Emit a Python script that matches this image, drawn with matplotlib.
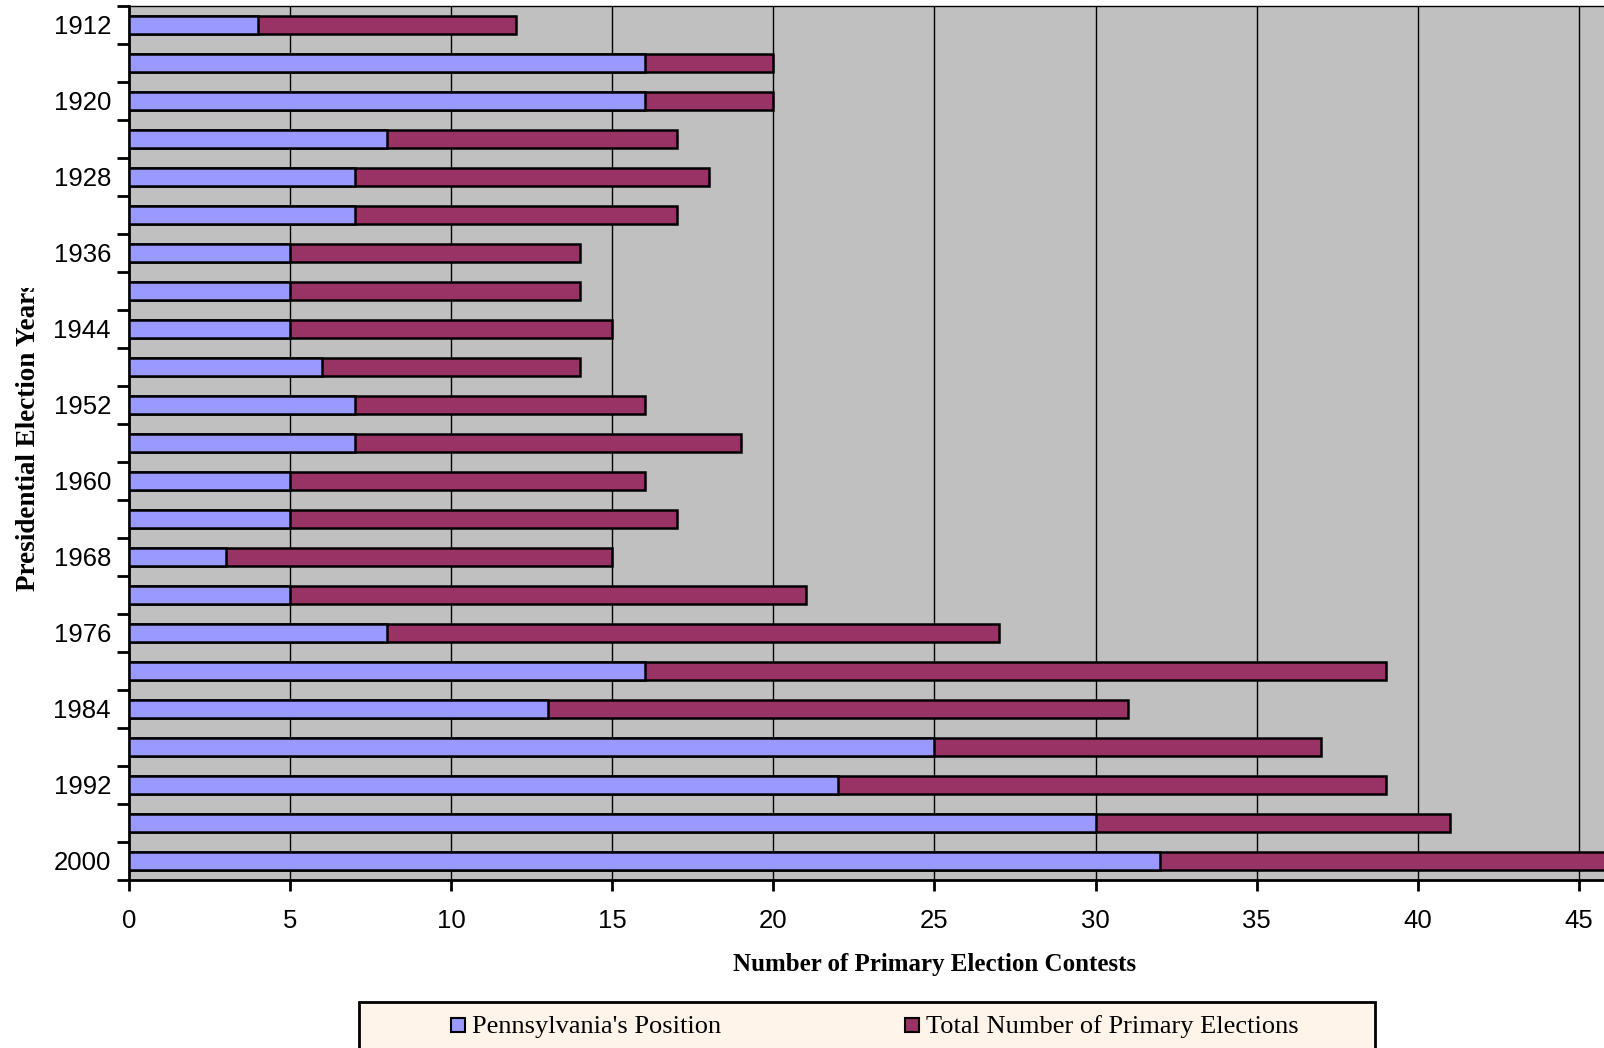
import matplotlib
matplotlib.use('Agg')
import matplotlib.pyplot as plt
from matplotlib.patches import Rectangle
from matplotlib.transforms import Bbox, TransformedBbox
import numpy as np

# data
years = [1912, 1916, 1920, 1924, 1928, 1932, 1936, 1940, 1944, 1948, 1952, 1956,
         1960, 1964, 1968, 1972, 1976, 1980, 1984, 1988, 1992, 1996, 2000]
pa_position = [4, 16, 16, 8, 7, 7, 5, 5, 5, 6, 7, 7, 5, 5, 3, 5, 8, 16, 13, 25, 22, 30, 32]
total_primaries = [12, 20, 20, 17, 18, 17, 14, 14, 15, 14, 16, 19, 16, 17, 15, 21, 27, 39, 31, 37, 39, 41, 47]
xticks = [0, 5, 10, 15, 20, 25, 30, 35, 40, 45]

blue = '#9999FF'
maroon = '#993366'

W, H = 1604, 1048
fig = plt.figure(figsize=(W/100, H/100), dpi=100)
fig.patch.set_facecolor('white')

# axes in pixel coords: left 129, top 6, bottom 880, right = figure edge
ax = fig.add_axes([129/W, 1 - 880/H, 1 - 129/W, (880 - 6)/H])
ax.set_facecolor('#C0C0C0')

y = np.arange(len(years))
ax.barh(y, total_primaries, height=0.45, color=maroon, edgecolor='black', linewidth=1.8, zorder=3)
ax.barh(y, pa_position, height=0.45, color=blue, edgecolor='black', linewidth=1.8, zorder=4)

ax.set_ylim(len(years) - 0.5, -0.5)
ax.set_xlim(0, 45.78)

# y ticks at category boundaries, labels every other year
ax.set_yticks(np.arange(len(years) + 1) - 0.5)
ax.set_yticklabels([])
ax.set_yticks(y[::2], minor=True)
ax.set_yticklabels([str(v) for v in years[::2]], minor=True,
                   fontsize=18.5, family='Liberation Sans')
ax.tick_params(axis='y', which='major', direction='out', length=9, width=2)
ax.tick_params(axis='y', which='minor', length=0, pad=13)

ax.set_xticks(xticks)
ax.set_xticklabels([str(v) for v in xticks], fontsize=18.5, family='Liberation Sans')
ax.tick_params(axis='x', direction='out', length=8, width=2, pad=13)

ax.grid(axis='x', color='black', linewidth=1.0, zorder=1)
ax.set_axisbelow(True)

ax.spines['left'].set_linewidth(2)
ax.spines['bottom'].set_linewidth(2)
ax.spines['top'].set_linewidth(1)
ax.spines['right'].set_visible(False)

# axis titles
fig.text(935/W, 1 - 965/H, 'Number of Primary Election Contests', ha='center', va='center',
         fontsize=18, fontweight='bold', family='Liberation Serif')

ylab = fig.text(29/W, 1 - 591/H, 'Presidential Election Years', rotation=90,
                ha='center', va='bottom', fontsize=19.5, fontweight='bold',
                family='Liberation Serif')
ylab.set_clip_box(TransformedBbox(Bbox([[0, 0], [1, 1 - 288/H]]), fig.transFigure))
ylab.set_clip_on(True)

# legend box (runs off the bottom edge like the original)
fig.patches.append(Rectangle((359/W, -0.02), (1375 - 359)/W, (1 - 1002/H) + 0.02,
                             transform=fig.transFigure, facecolor='#FFF4EA',
                             edgecolor='black', linewidth=2))
for xpos, col, label in [(451, blue, "Pennsylvania's Position"),
                         (905, maroon, 'Total Number of Primary Elections')]:
    fig.patches.append(Rectangle((xpos/W, 1 - 1032/H), 14/W, 14/H, transform=fig.transFigure,
                                 facecolor=col, edgecolor='black', linewidth=1.5))
    fig.text((xpos + 21)/W, 1 - 1027/H, label, ha='left', va='center',
             fontsize=19, family='Liberation Serif')

fig.savefig('out.png', dpi=100)
